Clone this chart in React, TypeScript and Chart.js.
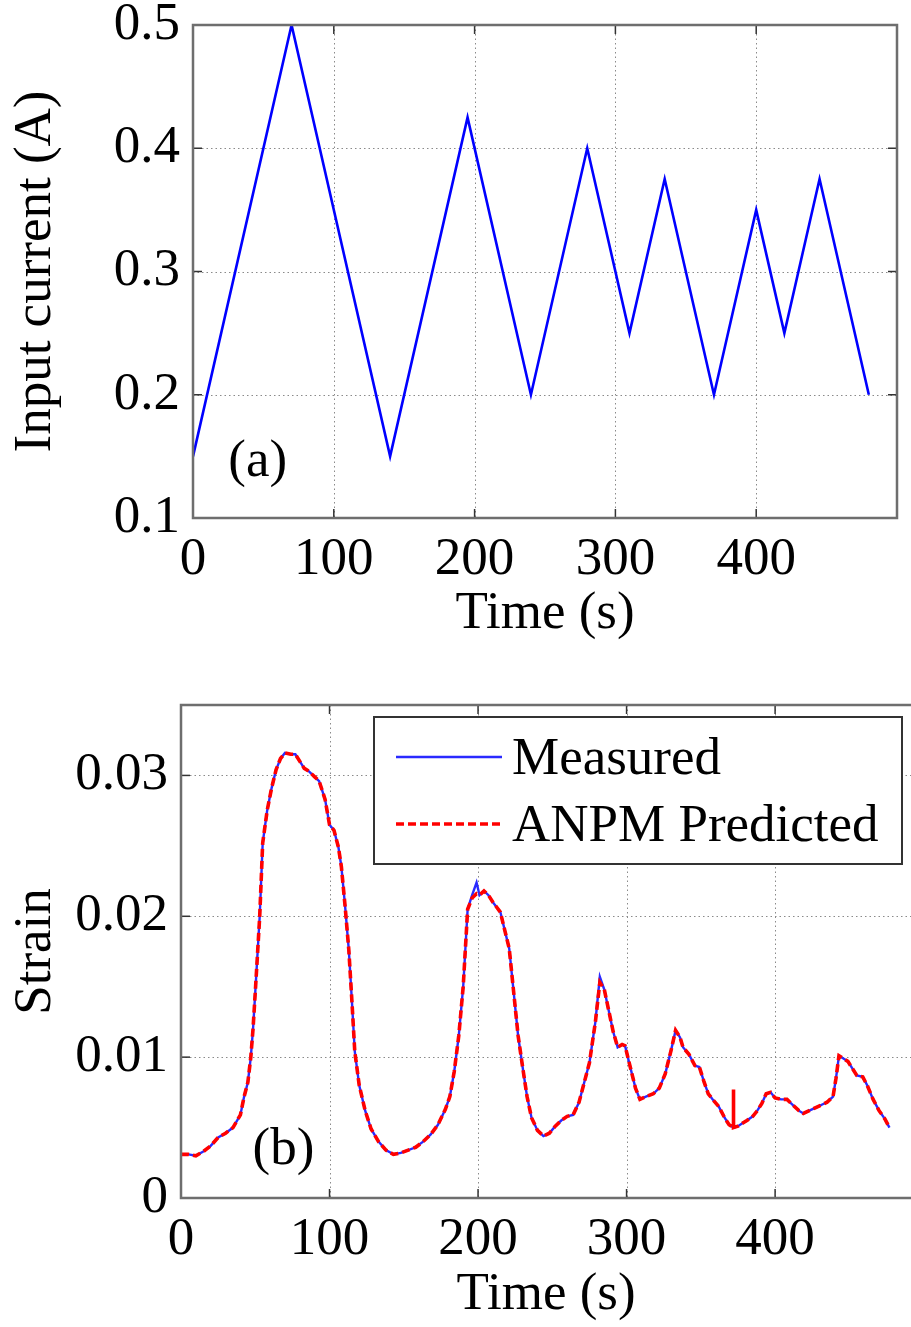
import React, { useEffect, useRef } from 'react';
import { Chart, registerables } from 'chart.js';

Chart.register(...registerables);

const FONT = "'Liberation Serif', 'Times New Roman', serif";
const FS = 53;

// ---------- (a) Input current ----------
const currentTime = [0, 70, 140, 195, 240, 280, 310, 335, 370, 400, 420, 445, 480];
const currentAmps = [0.15, 0.5, 0.15, 0.425, 0.2, 0.4, 0.25, 0.375, 0.2, 0.35, 0.25, 0.375, 0.2];
const currentXTicks = [0, 100, 200, 300, 400];
const currentYTicks = [0.1, 0.2, 0.3, 0.4, 0.5];

// ---------- (b) Strain ----------
const strainTime = [
  0, 5, 10, 15, 20, 25, 30, 35, 40, 42.5, 45, 47, 48.5, 50, 53, 55, 58, 61, 64, 67,
  70, 74, 77, 80, 83, 86, 90, 93, 97, 100, 103, 106, 108, 110.5, 113, 115, 117, 120, 124, 128,
  133, 138, 143, 148, 153, 158, 163, 168, 173, 178, 181, 184, 187, 190, 193, 196, 199, 201, 204, 207,
  210, 215, 218, 221, 224, 227, 230, 233, 236, 240, 244, 248, 252, 256, 260, 264, 268, 271, 275, 279,
  282, 285, 288, 291, 294, 297, 299, 302, 306, 309, 313, 318, 322, 326, 330, 333, 336, 338, 342, 346,
  349, 352, 355, 358, 362, 366, 369, 372, 372, 372, 375, 378, 381, 385, 388, 391, 394, 397, 400, 404,
  408, 412, 416, 419, 423, 427, 431, 435, 439, 441, 443, 446, 449, 452, 455, 459, 462, 466, 470, 474,
  477,
];
const strainMeasured = [
  0.0031, 0.0031, 0.0030, 0.0033, 0.0037, 0.0043, 0.0046, 0.0050, 0.0059, 0.0072, 0.0082, 0.0100, 0.0120, 0.0146, 0.0200, 0.0252, 0.0275, 0.0291, 0.0304, 0.0312,
  0.0316, 0.0315, 0.0315, 0.0310, 0.0305, 0.0303, 0.0299, 0.0296, 0.0283, 0.0265, 0.0261, 0.0249, 0.0235, 0.0207, 0.0176, 0.0141, 0.0104, 0.0080, 0.0062, 0.0049,
  0.0040, 0.0034, 0.0031, 0.0032, 0.0034, 0.0036, 0.0040, 0.0045, 0.0052, 0.0063, 0.0072, 0.0090, 0.0115, 0.0150, 0.0205, 0.0215, 0.0224, 0.0215, 0.0218, 0.0215,
  0.0210, 0.0203, 0.0190, 0.0177, 0.0146, 0.0115, 0.0093, 0.0072, 0.0057, 0.0048, 0.0044, 0.0046, 0.0051, 0.0055, 0.0058, 0.0059, 0.0068, 0.0080, 0.0096, 0.0125,
  0.0157, 0.0148, 0.0133, 0.0118, 0.0107, 0.0109, 0.0108, 0.0095, 0.0078, 0.0070, 0.0072, 0.0074, 0.0078, 0.0088, 0.0105, 0.0119, 0.0114, 0.0107, 0.0102, 0.0094,
  0.0093, 0.0083, 0.0074, 0.0070, 0.0065, 0.0057, 0.0052, 0.0050, 0.0050, 0.0050, 0.0051, 0.0053, 0.0055, 0.0058, 0.0062, 0.0067, 0.0074, 0.0075, 0.0071, 0.0070,
  0.0070, 0.0066, 0.0062, 0.0060, 0.0062, 0.0064, 0.0066, 0.0068, 0.0072, 0.0085, 0.0101, 0.0099, 0.0097, 0.0092, 0.0087, 0.0086, 0.0080, 0.0070, 0.0062, 0.0056,
  0.0050,
];
const strainPredicted = [
  0.0031, 0.0031, 0.0030, 0.0033, 0.0037, 0.0043, 0.0046, 0.0050, 0.0059, 0.0072, 0.0082, 0.0100, 0.0120, 0.0146, 0.0200, 0.0252, 0.0275, 0.0291, 0.0304, 0.0312,
  0.0316, 0.0315, 0.0315, 0.0310, 0.0305, 0.0303, 0.0299, 0.0296, 0.0283, 0.0265, 0.0261, 0.0249, 0.0235, 0.0207, 0.0176, 0.0141, 0.0104, 0.0080, 0.0062, 0.0049,
  0.0040, 0.0034, 0.0031, 0.0032, 0.0034, 0.0036, 0.0040, 0.0045, 0.0052, 0.0063, 0.0072, 0.0090, 0.0115, 0.0150, 0.0205, 0.0213, 0.0216, 0.0215, 0.0218, 0.0215,
  0.0210, 0.0203, 0.0190, 0.0177, 0.0146, 0.0115, 0.0093, 0.0072, 0.0057, 0.0048, 0.0044, 0.0046, 0.0051, 0.0055, 0.0058, 0.0059, 0.0068, 0.0080, 0.0096, 0.0125,
  0.0153, 0.0148, 0.0133, 0.0118, 0.0107, 0.0109, 0.0108, 0.0095, 0.0078, 0.0070, 0.0072, 0.0074, 0.0078, 0.0088, 0.0105, 0.0119, 0.0114, 0.0107, 0.0102, 0.0094,
  0.0093, 0.0083, 0.0074, 0.0070, 0.0065, 0.0057, 0.0052, 0.0050, 0.0077, 0.0050, 0.0051, 0.0053, 0.0055, 0.0058, 0.0062, 0.0067, 0.0074, 0.0075, 0.0071, 0.0070,
  0.0070, 0.0066, 0.0062, 0.0060, 0.0062, 0.0064, 0.0066, 0.0068, 0.0072, 0.0085, 0.0101, 0.0099, 0.0097, 0.0092, 0.0087, 0.0086, 0.0080, 0.0070, 0.0062, 0.0056,
  0.0050,
];
const strainXTicks = [0, 100, 200, 300, 400];
const strainYTicks = [0, 0.01, 0.02, 0.03];
const seriesNames = ['Measured', 'ANPM Predicted'];

const font = { family: FONT, size: FS };

const matlabPlugin = {
  id: 'matlabAxes',
  beforeDatasetsDraw(chart: any, _a: any, opts: any) {
    const { ctx, chartArea: a, scales } = chart;
    ctx.save();
    ctx.strokeStyle = '#8a8a8a';
    ctx.lineWidth = 1;
    ctx.setLineDash([1.5, 3]);
    for (const t of scales.x.ticks) {
      const px = Math.round(scales.x.getPixelForValue(t.value)) + 0.5;
      if (px <= a.left + 2 || px >= a.right - 2) continue;
      ctx.beginPath();
      ctx.moveTo(px, a.top);
      ctx.lineTo(px, a.bottom);
      ctx.stroke();
    }
    for (const t of scales.y.ticks) {
      const py = Math.round(scales.y.getPixelForValue(t.value)) + 0.5;
      if (py <= a.top + 2 || py >= a.bottom - 2) continue;
      ctx.beginPath();
      ctx.moveTo(a.left, py);
      ctx.lineTo(a.right, py);
      ctx.stroke();
    }
    ctx.restore();
  },
  afterDatasetsDraw(chart: any, _a: any, opts: any) {
    const { ctx, chartArea: a, scales } = chart;
    ctx.save();
    ctx.setLineDash([]);
    // tick marks (inward)
    ctx.strokeStyle = '#333';
    ctx.lineWidth = 1.5;
    const len = 9;
    for (const t of scales.x.ticks) {
      const px = scales.x.getPixelForValue(t.value);
      ctx.beginPath();
      ctx.moveTo(px, a.bottom);
      ctx.lineTo(px, a.bottom - len);
      ctx.moveTo(px, a.top);
      ctx.lineTo(px, a.top + len);
      ctx.stroke();
    }
    for (const t of scales.y.ticks) {
      const py = scales.y.getPixelForValue(t.value);
      ctx.beginPath();
      ctx.moveTo(a.left, py);
      ctx.lineTo(a.left + len, py);
      if (opts.rightBorder) {
        ctx.moveTo(a.right, py);
        ctx.lineTo(a.right - len, py);
      }
      ctx.stroke();
    }
    // box
    ctx.strokeStyle = '#6e6e6e';
    ctx.lineWidth = 2.5;
    ctx.beginPath();
    if (opts.rightBorder) {
      ctx.rect(a.left, a.top, a.right - a.left, a.bottom - a.top);
    } else {
      ctx.moveTo(a.right + 2, a.top);
      ctx.lineTo(a.left, a.top);
      ctx.lineTo(a.left, a.bottom);
      ctx.lineTo(a.right + 2, a.bottom);
    }
    ctx.stroke();
    // panel label
    if (opts.panel) {
      ctx.font = `${FS}px ${FONT}`;
      ctx.fillStyle = '#000';
      ctx.textAlign = 'center';
      ctx.textBaseline = 'middle';
      ctx.fillText(
        opts.panel.text,
        scales.x.getPixelForValue(opts.panel.x),
        scales.y.getPixelForValue(opts.panel.y)
      );
    }
    // legend
    if (opts.legend) {
      const L = a.left + 193;
      const R = a.right - 9;
      const T = a.top + 12;
      const B = a.top + 159;
      ctx.fillStyle = '#fff';
      ctx.fillRect(L, T, R - L, B - T);
      ctx.strokeStyle = '#333';
      ctx.lineWidth = 2;
      ctx.strokeRect(L, T, R - L, B - T);
      const rows = [a.top + 52, a.top + 119];
      const ds = chart.data.datasets;
      rows.forEach((ry: number, i: number) => {
        const d = ds[i];
        ctx.save();
        ctx.strokeStyle = d.borderColor;
        ctx.lineWidth = d.borderWidth;
        ctx.setLineDash(d.borderDash || []);
        ctx.beginPath();
        ctx.moveTo(L + 22, ry);
        ctx.lineTo(L + 128, ry);
        ctx.stroke();
        ctx.restore();
        ctx.font = `${FS}px ${FONT}`;
        ctx.fillStyle = '#000';
        ctx.textAlign = 'left';
        ctx.textBaseline = 'middle';
        ctx.fillText(d.label, L + 138, ry + 3);
      });
    }
    ctx.restore();
  },
};

function makeScales(o: any) {
  return {
    x: {
      type: 'linear',
      min: o.xMin,
      max: o.xMax,
      afterBuildTicks: (s: any) => {
        s.ticks = o.xTicks.map((v: number) => ({ value: v }));
      },
      afterFit: (s: any) => {
        s.height = o.xHeight;
        s.paddingLeft = 0;
        s.paddingRight = 0;
      },
      grid: { display: false, drawTicks: false },
      border: { display: false },
      ticks: {
        font,
        color: '#000',
        padding: 10,
        maxRotation: 0,
        autoSkip: false,
        callback: (v: any) => String(v),
      },
      title: {
        display: true,
        text: 'Time (s)',
        font: { family: FONT, size: FS, lineHeight: 1.2 },
        color: '#000',
        padding: { top: 0, bottom: 0 },
      },
    },
    y: {
      type: 'linear',
      min: o.yMin,
      max: o.yMax,
      afterBuildTicks: (s: any) => {
        s.ticks = o.yTicks.map((v: number) => ({ value: v }));
      },
      afterFit: (s: any) => {
        s.width = o.yWidth;
        s.paddingTop = 0;
        s.paddingBottom = 0;
      },
      grid: { display: false, drawTicks: false },
      border: { display: false },
      ticks: {
        font,
        color: '#000',
        padding: 13,
        autoSkip: false,
        callback: o.yFmt,
      },
      title: {
        display: true,
        text: o.yTitle,
        font: { family: FONT, size: FS, lineHeight: 1.2 },
        color: '#000',
        padding: { top: 4, bottom: 0 },
      },
    },
  };
}

function topConfig(): any {
  return {
    type: 'line',
    data: {
      datasets: [
        {
          label: 'Input current',
          data: currentTime.map((t, i) => ({ x: t, y: currentAmps[i] })),
          borderColor: '#0000ff',
          borderWidth: 2.6,
          pointRadius: 0,
          tension: 0,
          fill: false,
        },
      ],
    },
    options: {
      responsive: false,
      animation: false,
      layout: { padding: { top: 25, right: 14, bottom: 14, left: 0 } },
      plugins: {
        legend: { display: false },
        tooltip: { enabled: false },
        matlabAxes: { rightBorder: true, panel: { text: '(a)', x: 46, y: 0.145 } },
      },
      scales: makeScales({
        xMin: 0,
        xMax: 500,
        xTicks: currentXTicks,
        xHeight: 128,
        yMin: 0.1,
        yMax: 0.5,
        yTicks: currentYTicks,
        yWidth: 193,
        yTitle: 'Input current (A)',
        yFmt: (v: any) => Number(v).toFixed(1),
      }),
    },
    plugins: [matlabPlugin],
  };
}

function bottomConfig(): any {
  return {
    type: 'line',
    data: {
      datasets: [
        {
          label: seriesNames[0],
          data: strainTime.map((t, i) => ({ x: t, y: strainMeasured[i] })),
          borderColor: '#2a2aff',
          borderWidth: 2.4,
          pointRadius: 0,
          tension: 0,
          fill: false,
          order: 2,
        },
        {
          label: seriesNames[1],
          data: strainTime.map((t, i) => ({ x: t, y: strainPredicted[i] })),
          borderColor: '#ff0000',
          borderWidth: 3.6,
          borderDash: [8, 4],
          pointRadius: 0,
          tension: 0,
          fill: false,
          order: 1,
        },
      ],
    },
    options: {
      responsive: false,
      animation: false,
      layout: { padding: { top: 45, right: 0, bottom: 0, left: 0 } },
      plugins: {
        legend: { display: false },
        tooltip: { enabled: false },
        matlabAxes: { rightBorder: false, legend: true, panel: { text: '(b)', x: 69, y: 0.0034 } },
      },
      scales: makeScales({
        xMin: 0,
        xMax: 491.5,
        xTicks: strainXTicks,
        xHeight: 129,
        yMin: 0,
        yMax: 0.035,
        yTicks: strainYTicks,
        yWidth: 181,
        yTitle: 'Strain',
        yFmt: (v: any) => (Number(v) === 0 ? '0' : Number(v).toFixed(2)),
      }),
    },
    plugins: [matlabPlugin],
  };
}

function ChartCanvas({ make, width, height, top }: { make: () => any; width: number; height: number; top: number }) {
  const ref = useRef<HTMLCanvasElement>(null);
  useEffect(() => {
    const chart = new Chart(ref.current as HTMLCanvasElement, make());
    return () => chart.destroy();
  }, []);
  return (
    <canvas
      ref={ref}
      width={width}
      height={height}
      style={{ position: 'absolute', left: 0, top, width, height, display: 'block' }}
    />
  );
}

export default function App() {
  return (
    <div style={{ position: 'absolute', left: 0, top: 0, width: 911, height: 1327, background: '#fff', overflow: 'hidden' }}>
      <ChartCanvas make={topConfig} width={911} height={660} top={0} />
      <ChartCanvas make={bottomConfig} width={911} height={667} top={660} />
    </div>
  );
}
